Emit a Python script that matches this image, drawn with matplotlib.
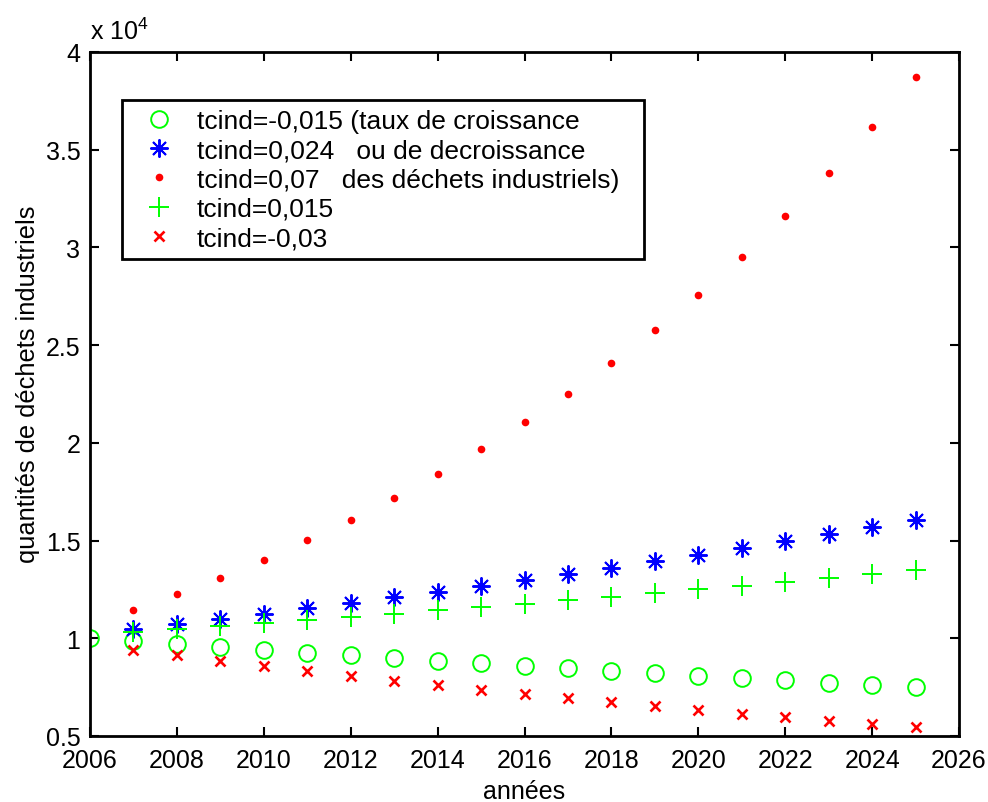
import matplotlib
matplotlib.use("Agg")
import matplotlib.pyplot as plt
from matplotlib.ticker import FixedLocator, FuncFormatter

plt.rcParams['font.family'] = ['Liberation Sans', 'DejaVu Sans']
plt.rcParams['mathtext.fontset'] = 'custom'
plt.rcParams['mathtext.rm'] = 'Liberation Sans'
plt.rcParams['mathtext.default'] = 'regular'

# ---- data ----
years_circle = [2006, 2007, 2008, 2009, 2010, 2011, 2012, 2013, 2014, 2015,
                2016, 2017, 2018, 2019, 2020, 2021, 2022, 2023, 2024, 2025]
tc_m0015 = [10000, 9850, 9702, 9557, 9413, 9272, 9133, 8996, 8861, 8728,
            8597, 8468, 8341, 8216, 8093, 7972, 7852, 7734, 7618, 7504]

years = [2007, 2008, 2009, 2010, 2011, 2012, 2013, 2014, 2015, 2016,
         2017, 2018, 2019, 2020, 2021, 2022, 2023, 2024, 2025]
tc_0024 = [10486, 10737, 10995, 11259, 11529, 11806, 12089, 12379, 12677, 12981,
           13292, 13611, 13938, 14272, 14615, 14966, 15325, 15693, 16069]
tc_007 = [11449, 12250, 13108, 14026, 15007, 16058, 17182, 18385, 19672, 21049,
          22522, 24098, 25785, 27590, 29522, 31588, 33799, 36165, 38697]
tc_0015 = [10302, 10457, 10614, 10773, 10934, 11098, 11265, 11434, 11605, 11779,
           11956, 12136, 12318, 12502, 12690, 12880, 13073, 13270, 13469]
tc_m003 = [9409, 9127, 8853, 8587, 8330, 8080, 7837, 7602, 7374, 7153,
           6938, 6730, 6528, 6333, 6143, 5958, 5780, 5606, 5438]

labels = ["tcind=-0,015 (taux de croissance",
          "tcind=0,024   ou de decroissance",
          "tcind=0,07   des déchets industriels)",
          "tcind=0,015",
          "tcind=-0,03"]

xticks = [2006, 2008, 2010, 2012, 2014, 2016, 2018, 2020, 2022, 2024, 2026]
yticks = [5000, 10000, 15000, 20000, 25000, 30000, 35000, 40000]

fig = plt.figure(figsize=(9.88, 8.03), dpi=100)
ax = fig.add_axes([0.0911, 0.0822, 0.8796, 0.8518])

green = (0, 1, 0)
blue = (0, 0, 1)
red = (1, 0, 0)

ax.plot(years_circle, tc_m0015, linestyle='none', marker='o', ms=12,
        mfc='none', mec=green, mew=1.4, label=labels[0])
ax.plot(years, tc_0024, linestyle='none', marker=(8, 2, 0), ms=13,
        mec=blue, mew=1.4, label=labels[1])
ax.plot(years, tc_007, linestyle='none', marker='o', ms=5.5,
        mfc=red, mec=red, mew=0, label=labels[2])
ax.plot(years, tc_0015, linestyle='none', marker='+', ms=15,
        mec=green, mew=1.4, label=labels[3])
ax.plot(years, tc_m003, linestyle='none', marker='x', ms=6.5,
        mec=red, mew=1.9, label=labels[4])

ax.set_xlim(2006, 2026)
ax.set_ylim(5000, 40000)
ax.xaxis.set_major_locator(FixedLocator(xticks))
ax.yaxis.set_major_locator(FixedLocator(yticks))
ax.yaxis.set_major_formatter(FuncFormatter(lambda v, p: "%g" % (v / 1e4)))

for s in ax.spines.values():
    s.set_linewidth(2.0)
    s.set_color('black')
ax.tick_params(direction='in', length=6.5, width=1.5, labelsize=18,
               top=True, right=True)
ax.tick_params(axis='x', pad=9)
ax.tick_params(axis='y', pad=7)

ax.text(0.0, 1.012, r'x 10$^{4}$', transform=ax.transAxes,
        ha='left', va='bottom', fontsize=18)

ax.set_xlabel("années", fontsize=18)
ax.xaxis.set_label_coords(0.5, -0.080)
ax.xaxis.label.set_va('center')
ax.set_ylabel("quantités de déchets industriels", fontsize=18.3)
ax.yaxis.set_label_coords(-0.071, 0.515)
ax.yaxis.label.set_va('center')

leg = ax.legend(loc='upper left', bbox_to_anchor=(0.0368, 0.699, 0.6007, 0.231),
                mode='expand', fontsize=19, numpoints=1, fancybox=False,
                frameon=True, edgecolor='black', framealpha=1,
                borderpad=0.35, labelspacing=0.2, handlelength=2.1,
                handletextpad=0.39, borderaxespad=0)
leg.get_frame().set_linewidth(2.0)

fig.savefig("out.png", dpi=100)
